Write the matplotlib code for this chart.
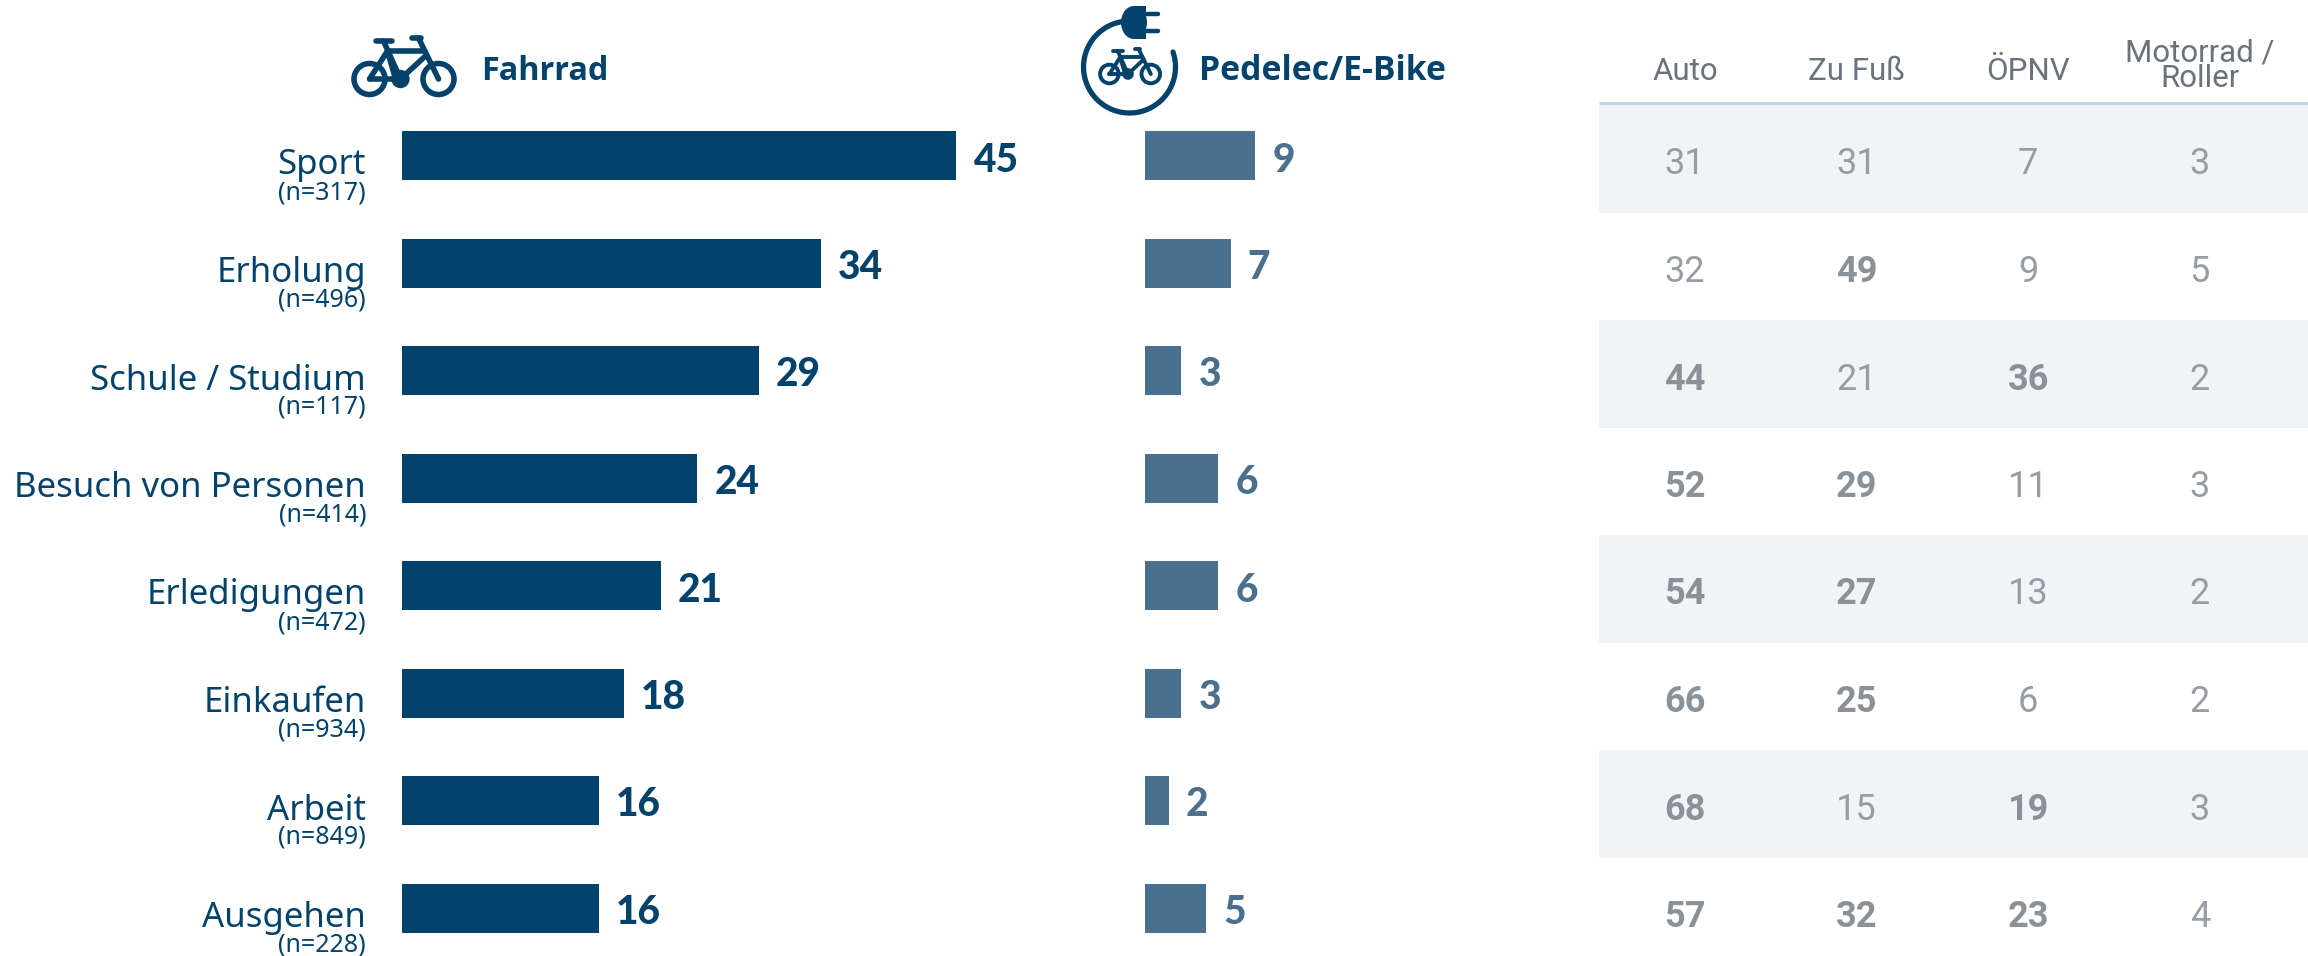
import numpy as np
from matplotlib import pyplot as plt
from matplotlib.patches import Circle, Ellipse, Rectangle

# data
categories = ['Sport', 'Erholung', 'Schule / Studium', 'Besuch von Personen',
              'Erledigungen', 'Einkaufen', 'Arbeit', 'Ausgehen']
sample_sizes = [317, 496, 117, 414, 472, 934, 849, 228]
fahrrad = [45, 34, 29, 24, 21, 18, 16, 16]
pedelec = [9, 7, 3, 6, 6, 3, 2, 5]
auto = [31, 32, 44, 52, 54, 66, 68, 57]
zu_fuss = [31, 49, 21, 29, 27, 25, 15, 32]
oepnv = [7, 9, 36, 11, 13, 6, 19, 23]
motorrad = [3, 5, 2, 3, 2, 2, 3, 4]
table_headers = ['Auto', 'Zu Fuß', 'ÖPNV', 'Motorrad /\nRoller']

DARK = '#03426A'
LIGHT = '#4B708D'
GREY = '#8A9299'
GREY_THIN = '#969DA4'
HEAD_GREY = '#68737D'
BAND = '#F0F4F7'
RULE = '#C5D6E2'
NARROW = ['Roboto', 'DejaVu Sans']

W, H = 2308, 956
PX_PER_UNIT = 12.31
ROW_0 = 155.5
ROW_STEP = 107.5
ylim = ((H - ROW_0) / ROW_STEP, -ROW_0 / ROW_STEP)

fig = plt.figure(figsize=(W / 100, H / 100), dpi=100)


def make_axes(x0, x1):
    ax = fig.add_axes([x0 / W, 0, (x1 - x0) / W, 1])
    ax.set_ylim(ylim)
    ax.axis('off')
    ax.patch.set_alpha(0)
    return ax


rows = np.arange(len(categories))

# Fahrrad bars
ax1 = make_axes(402, 1100)
ax1.set_xlim(0, 698 / PX_PER_UNIT)
ax1.barh(rows, fahrrad, height=49 / ROW_STEP, color=DARK)
for i, v in enumerate(fahrrad):
    ax1.annotate(str(v), (v, i), xytext=(17, -1), textcoords='offset pixels', ha='left', va='center_baseline',
                 fontsize=28, fontweight=900, family='Lato', color=DARK)
    ax1.annotate(categories[i], (0, i), xytext=(-36, -6), textcoords='offset pixels', ha='right',
                 va='center_baseline', fontsize=25, family='Noto Sans', color=DARK)
    ax1.annotate('(n=%d)' % sample_sizes[i], (0, i), xytext=(-36, -34), textcoords='offset pixels', ha='right',
                 va='center_baseline', fontsize=18, family='Noto Sans', color=DARK)

# Pedelec bars
ax2 = make_axes(1144.5, 1590)
ax2.set_xlim(0, 445.5 / PX_PER_UNIT)
ax2.barh(rows, pedelec, height=49 / ROW_STEP, color=LIGHT)
for i, v in enumerate(pedelec):
    ax2.annotate(str(v), (v, i), xytext=(17, -1), textcoords='offset pixels', ha='left', va='center_baseline',
                 fontsize=28, fontweight=900, family='Lato', color=LIGHT)

# comparison table
ax3 = make_axes(1599, 2308)
COL_STEP = 171.6
ax3.set_xlim((1599 - 1685) / COL_STEP, (2308 - 1685) / COL_STEP)
ax3.barh(rows[::2] + 0.035, [ax3.get_xlim()[1] - ax3.get_xlim()[0]] * 4, left=ax3.get_xlim()[0],
         height=1.005, color=BAND, zorder=0)
ax3.plot(ax3.get_xlim(), [(103 - ROW_0) / ROW_STEP] * 2, color=RULE, lw=2.2, solid_capstyle='butt')
for j, col in enumerate([auto, zu_fuss, oepnv, motorrad]):
    ax3.text(j, (72 - ROW_0) / ROW_STEP if j < 3 else (66 - ROW_0) / ROW_STEP, table_headers[j], ha='center',
             va='center', fontsize=22.5, family=NARROW, color=HEAD_GREY, linespacing=0.85)
    for i, v in enumerate(col):
        bold = v > fahrrad[i]
        ax3.annotate(str(v), (j, i), xytext=(0, -5), textcoords='offset pixels', ha='center',
                     va='center_baseline', fontsize=26, family=NARROW, color=GREY if bold else GREY_THIN,
                     fontweight='bold' if bold else 'normal')

# overlay in pixel coords for the icons and panel titles
over = fig.add_axes([0, 0, 1, 1])
over.set_xlim(0, W)
over.set_ylim(H, 0)
over.axis('off')
over.patch.set_alpha(0)


def bike(cx, cy, s, lw):
    # cx, cy = crank centre, s = scale against the big icon
    def seg(x, y):
        over.plot(cx + np.array(x) * s, cy + np.array(y) * s, color=DARK, lw=lw, solid_capstyle='round',
                  solid_joinstyle='round')
    for wx in [-31, 38]:
        over.add_patch(Circle((cx + wx * s, cy), 15.5 * s, fill=False, ec=DARK, lw=lw))
    over.add_patch(Circle((cx, cy), 8.5 * s, color=DARK))
    seg([-13, 22], [-28, -28])            # top tube
    seg([-17, 0], [-38, 0])               # seat tube
    seg([26, 0], [-24, 0])                # down tube
    seg([18, 38], [-41, 0])               # fork
    seg([-31, -13, -5], [0, -28, 0])      # rear stays
    seg([-31, 0], [0, 0])                 # chain stay
    seg([-25, -9], [-38, -38])            # saddle
    seg([11, 20], [-41, -41])             # handlebar


bike(400.5, 79, 1.0, 4.0)
over.text(481, 71, 'Fahrrad', ha='left', va='center', fontsize=23.3, fontweight='bold', family='Open Sans', color=DARK)

bike(1128, 74, 0.6, 2.8)
t = np.radians(np.linspace(97, 379, 200))
over.plot(1129.5 + 46 * np.cos(t), 67 - 46 * np.sin(t), color=DARK, lw=3.8, solid_capstyle='round')
over.add_patch(Rectangle((1132, 6), 14, 33, color=DARK, lw=0))
over.add_patch(Ellipse((1134, 22.5), 26, 33, color=DARK, lw=0))
over.plot([1146, 1158], [14, 14], color=DARK, lw=3.2, solid_capstyle='round')
over.plot([1146, 1158], [31, 31], color=DARK, lw=3.2, solid_capstyle='round')
over.text(1199, 71, 'Pedelec/E-Bike', ha='left', va='center', fontsize=24.3, fontweight='bold', family='Open Sans',
          color=DARK)

fig.savefig('out.png', dpi=100)
